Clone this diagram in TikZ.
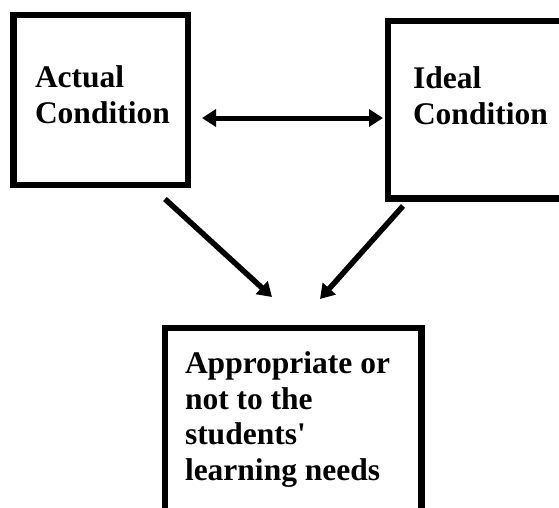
\documentclass[tikz,border=0pt]{standalone}
\usepackage{fontspec}
\setmainfont{Liberation Serif}
\usetikzlibrary{arrows.meta}
\begin{document}
\begin{tikzpicture}[x=1pt,y=-1pt,
  box/.style={draw=black,line width=6.5pt,minimum width=#1,inner sep=0pt,outer sep=0pt},
  lbl/.style={anchor=north west,inner sep=0pt,outer sep=0pt,align=left,
    font=\bfseries\fontsize{31.5}{35.5}\selectfont,text=black},
  conn/.style={line width=5.5pt,-{Triangle[length=14pt,width=17pt]}},
  dconn/.style={line width=5pt,{Triangle[length=14pt,width=17pt]}-{Triangle[length=14pt,width=17pt]}}]
\useasboundingbox (0,0) rectangle (559,507);
\clip (0,0) rectangle (559,507);
\fill[white] (0,0) rectangle (559,507);
% boxes
\node[box=174.5pt,minimum height=170pt] (actual) at (100.75,100) {};
\node[box=182pt,minimum height=177.5pt] (ideal) at (479,109.75) {};
\node[box=256.5pt,minimum height=192pt] (result) at (293.25,424) {};
% texts
\node[lbl] (actualtxt) at (35,66) {Actual\\Condition};
\node[lbl] (idealtxt) at (413,67) {Ideal\\Condition};
\node[lbl] (resulttxt) at (185,352) {Appropriate or\\not to the\\students\textquotesingle\\learning needs};
% connectors
\coordinate (d1) at (202,118);
\coordinate (d2) at (383,118);
\draw[dconn] (d1) -- (d2);
\coordinate (a1) at (165,199);
\coordinate (a2) at (272,297);
\draw[conn] (a1) -- (a2);
\coordinate (b1) at (403,206);
\coordinate (b2) at (320,299);
\draw[conn] (b1) -- (b2);
\end{tikzpicture}
\end{document}
